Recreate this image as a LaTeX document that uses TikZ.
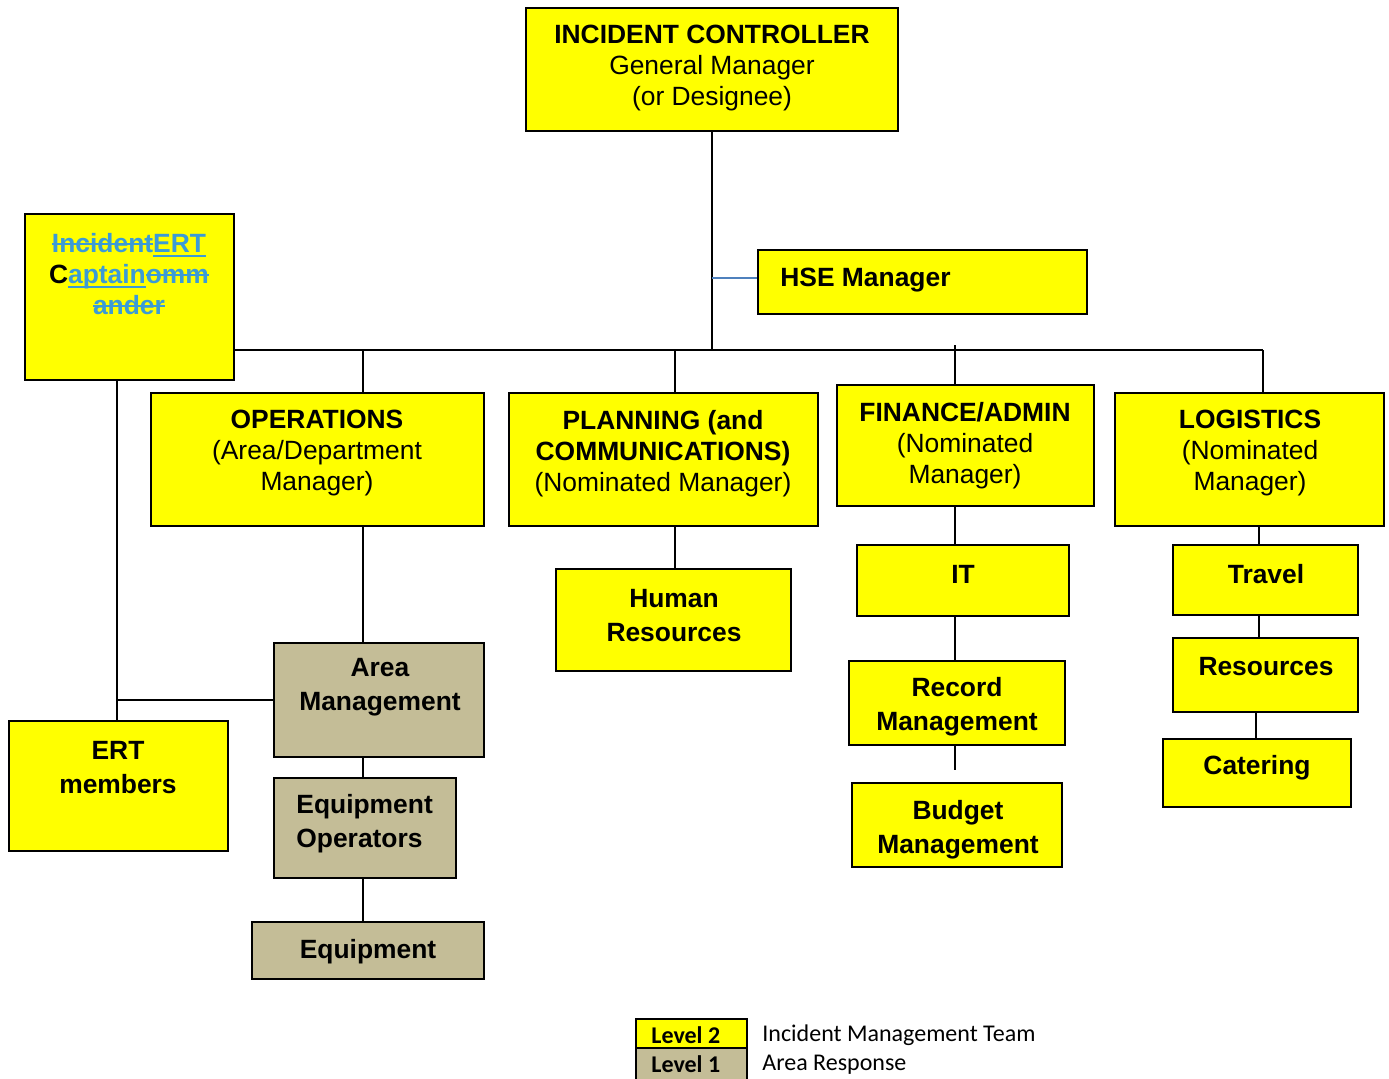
\documentclass[tikz,border=0pt]{standalone}
\usepackage{fontspec}
\setmainfont{Liberation Sans}
\newfontfamily\legendfont{Carlito}
\usetikzlibrary{fit,calc}
\definecolor{boxyellow}{RGB}{255,255,0}
\definecolor{boxtan}{RGB}{196,189,151}
\definecolor{editblue}{RGB}{59,155,214}
\definecolor{hseblue}{RGB}{79,129,189}
% struck-out and underlined revision marks
\newcommand\strk[1]{\setbox0\hbox{#1}\rlap{\copy0}\rule[0.28em]{\wd0}{1.1pt}}
\newcommand\undl[1]{\setbox0\hbox{#1}\rlap{\copy0}\rule[-0.16em]{\wd0}{1.1pt}}
\tikzset{
  box/.style={draw=black, line width=1pt, fill=boxyellow, inner sep=0pt},
  tanbox/.style={box, fill=boxtan},
  txt/.style={align=center, inner sep=0pt, yshift=-1.2pt, font=\fontsize{13.2}{15.5}\selectfont},
  btxt/.style={txt, font=\bfseries\fontsize{13.2}{17}\selectfont},
  legtxt/.style={inner sep=0pt, anchor=west, yshift=-0.8pt, font=\legendfont\fontsize{12}{13}\selectfont},
  link/.style={draw=black, line width=0.9pt},
  hselink/.style={draw=hseblue, line width=0.9pt},
}
\begin{document}
\begin{tikzpicture}[x=0.5pt, y=-0.5pt]
\useasboundingbox (0,0) rectangle (1389,1078);

% ---- boxes ----
\node[box, fit={(526,8)(898,131)}] (ic) {};
\node[box, fit={(758,250)(1087,314)}] (hse) {};
\node[box, fit={(25,214)(234,380)}] (cap) {};
\node[box, fit={(151,393)(484,526)}] (ops) {};
\node[box, fit={(509,393)(818,526)}] (plan) {};
\node[box, fit={(837,385)(1094,506)}] (fin) {};
\node[box, fit={(1115,393)(1384,526)}] (log) {};
\node[box, fit={(556,569)(791,671)}] (hr) {};
\node[box, fit={(857,545)(1069,616)}] (it) {};
\node[box, fit={(849,661)(1065,745)}] (rec) {};
\node[box, fit={(852,783)(1062,867)}] (bud) {};
\node[box, fit={(1173,545)(1358,615)}] (trav) {};
\node[box, fit={(1173,638)(1358,712)}] (res) {};
\node[box, fit={(1163,739)(1351,807)}] (cat) {};
\node[tanbox, fit={(274,643)(484,757)}] (area) {};
\node[tanbox, fit={(274,778)(456,878)}] (eqop) {};
\node[tanbox, fit={(252,922)(484,979)}] (equip) {};
\node[box, fit={(9,721)(228,851)}] (ertm) {};

% ---- box texts ----
\node[txt] (icT) at (712,66) {{\bfseries INCIDENT CONTROLLER}\\General Manager\\(or Designee)};
\node[btxt, anchor=west] (hseT) at (780,278) {HSE Manager};
\node[btxt, text=editblue, font=\bfseries\fontsize{13.2}{15.5}\selectfont] (capT) at (129,272)
  {\strk{Incident}\undl{ERT}\\{\color{black}C}\undl{aptain}\strk{omm}\\\strk{ander}};
\node[txt] (opsT) at (317,451) {{\bfseries OPERATIONS}\\(Area/Department\\Manager)};
\node[txt] (planT) at (663,451) {{\bfseries PLANNING (and}\\{\bfseries COMMUNICATIONS)}\\(Nominated Manager)};
\node[txt] (finT) at (965,443) {{\bfseries FINANCE/ADMIN}\\(Nominated\\Manager)};
\node[txt] (logT) at (1250,451) {{\bfseries LOGISTICS}\\(Nominated\\Manager)};
\node[btxt] (hrT) at (674,613) {Human\\Resources};
\node[btxt] (itT) at (963,572) {IT};
\node[btxt] (recT) at (957,704) {Record\\Management};
\node[btxt] (budT) at (958,827) {Budget\\Management};
\node[btxt] (travT) at (1266,572) {Travel};
\node[btxt] (resT) at (1266,664) {Resources};
\node[btxt] (catT) at (1257,765) {Catering};
\node[btxt] (areaT) at (380,685) {Area\\Management};
\node[btxt, align=left, anchor=west] (eqopT) at (296,821) {Equipment\\Operators};
\node[btxt] (equipT) at (368,949) {Equipment};
\node[btxt] (ertmT) at (118,765) {ERT\\members};

% ---- connectors ----
\coordinate (bus) at (712,350);
\coordinate (hseJ) at (712,278);
\coordinate (jOps) at (363,350);
\coordinate (jPlan) at (675,350);
\coordinate (jFin) at (955,345);
\coordinate (jLog) at (1263,350);
\coordinate (jLog2) at (1259,0);
\coordinate (jLog3) at (1256,0);
\coordinate (jCap) at (117,0);
\coordinate (budStub) at (955,770);

\draw[link] (ic.south) -- (bus);
\draw[hselink] (hseJ) -- (hseJ -| hse.west);
\draw[link] (cap.east |- bus) -- (jLog);
\draw[link] (jOps) -- (jOps |- ops.north);
\draw[link] (jPlan) -- (jPlan |- plan.north);
\draw[link] (jFin) -- (jFin |- fin.north);
\draw[link] (jLog) -- (jLog |- log.north);

\draw[link] (jOps |- ops.south) -- (jOps |- area.north);
\draw[link] (jOps |- area.south) -- (jOps |- eqop.north);
\draw[link] (jOps |- eqop.south) -- (jOps |- equip.north);

\draw[link] (jPlan |- plan.south) -- (jPlan |- hr.north);

\draw[link] (jFin |- fin.south) -- (jFin |- it.north);
\draw[link] (jFin |- it.south) -- (jFin |- rec.north);
\draw[link] (jFin |- rec.south) -- (budStub);

\draw[link] (jLog2 |- log.south) -- (jLog2 |- trav.north);
\draw[link] (jLog2 |- trav.south) -- (jLog2 |- res.north);
\draw[link] (jLog3 |- res.south) -- (jLog3 |- cat.north);

\draw[link] (jCap |- cap.south) -- (jCap |- ertm.north);
\draw[link] (jCap |- area.west) -- (area.west);

% ---- legend ----
\node[box, line width=0.9pt, fit={(636,1019)(747,1048)}] (lv2) {};
\node[tanbox, line width=0.9pt, fit={(636,1048)(747,1090)}] (lv1) {};
\node[legtxt, font=\legendfont\bfseries\fontsize{12}{13}\selectfont] (lv2T) at (651,1034) {Level 2};
\node[legtxt, font=\legendfont\bfseries\fontsize{12}{13}\selectfont] (lv1T) at (651,1063) {Level 1};
\node[legtxt] (lv2D) at (762,1034) {Incident Management Team};
\node[legtxt] (lv1D) at (762,1063) {Area Response};
\end{tikzpicture}
\end{document}
